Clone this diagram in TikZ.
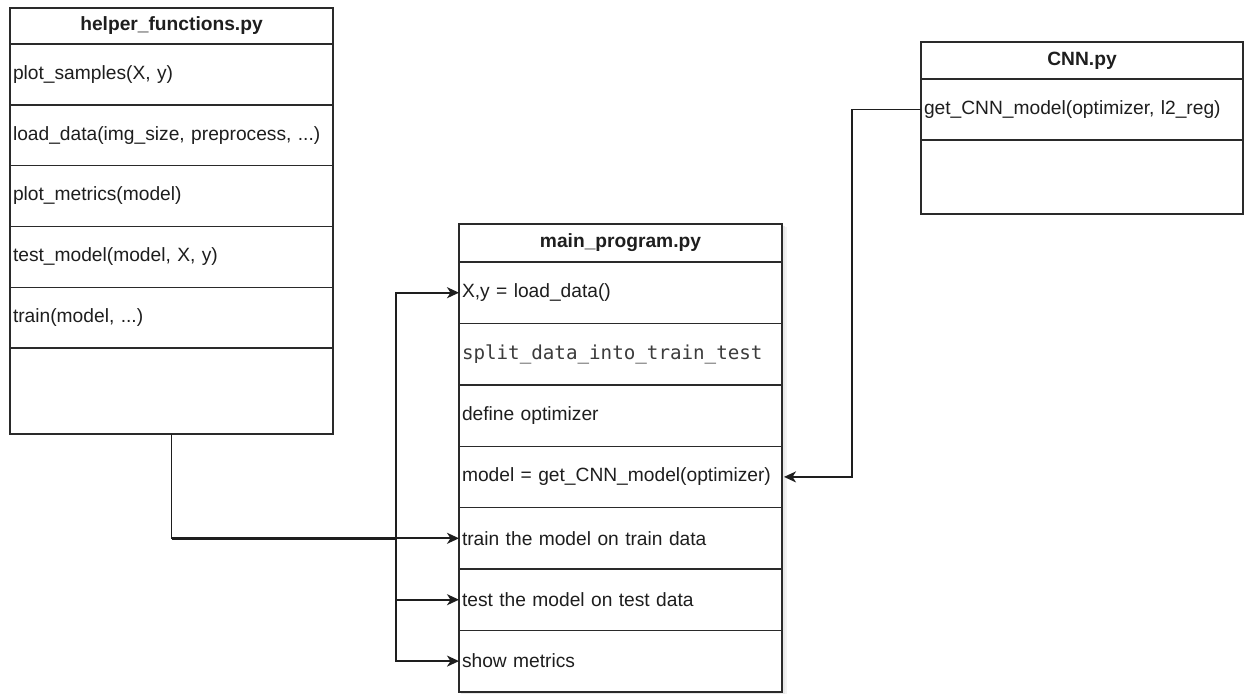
\documentclass[tikz,border=0pt]{standalone}
\usepackage{fontspec}
\setmainfont{Liberation Sans}
\newfontfamily\codefont{DejaVu Sans Mono}
\usetikzlibrary{arrows.meta}
\definecolor{ink}{HTML}{1E1E1E}
\definecolor{edge}{HTML}{2A2A2A}
\definecolor{codegray}{HTML}{3C3C3C}
\begin{document}
\begin{tikzpicture}[x=1pt,y=-1pt,
  every node/.style={font=\fontsize{19.2}{23}\selectfont, text=ink},
  cell/.style={draw=edge, line width=1.4pt, fill=white, anchor=north west,
    inner xsep=3pt, inner ysep=0pt, outer sep=0pt, align=left},
  head/.style={cell, align=center, font=\fontsize{19.2}{23}\selectfont\bfseries},
  wide/.style={text width=317pt},
  conn/.style={draw=ink, line width=1.7pt,
    -{Stealth[length=12pt,width=11pt,inset=3.5pt]}},
  plain/.style={draw=ink, line width=2.6pt}]
\useasboundingbox (0,0) rectangle (1244,693);

% soft shadow under main_program.py
\fill[black!5] (462,227) rectangle (787,697);
\fill[black!9] (461,226) rectangle (785,695);

% helper_functions.py
\node[head, wide, minimum height=36pt] (hh) at (10,8) {helper\_functions.py};
\node[cell, wide, minimum height=60.8pt] (h1) at (hh.south west) {plot\_samples(X, y)};
\node[cell, wide, minimum height=60.8pt] (h2) at (h1.south west) {load\_data(img\_size, preprocess, ...)};
\node[cell, wide, minimum height=60.8pt] (h3) at (h2.south west) {plot\_metrics(model)};
\node[cell, wide, minimum height=60.8pt] (h4) at (h3.south west) {test\_model(model, X, y)};
\node[cell, wide, minimum height=60.8pt] (h5) at (h4.south west) {train(model, ...)};
\node[cell, wide, minimum height=86pt] (h6) at (h5.south west) {};

% main_program.py
\node[head, wide, minimum height=38pt] (mh) at (459,224) {main\_program.py};
\node[cell, wide, minimum height=61.4pt] (m1) at (mh.south west) {X,y = load\_data()};
\node[cell, wide, minimum height=61.4pt] (m2) at (m1.south west) {\textcolor{codegray}{\codefont split\_data\_into\_train\_test}};
\node[cell, wide, minimum height=61.4pt] (m3) at (m2.south west) {define optimizer};
\node[cell, wide, minimum height=61.4pt] (m4) at (m3.south west) {model = get\_CNN\_model(optimizer)};
\node[cell, wide, minimum height=61.4pt] (m5) at (m4.south west) {train the model on train data};
\node[cell, wide, minimum height=61.4pt] (m6) at (m5.south west) {test the model on test data};
\node[cell, wide, minimum height=61.4pt] (m7) at (m6.south west) {show metrics};
\draw[edge, line width=2.8pt] (mh.south west) -- (mh.south east);

% CNN.py
\node[head, text width=316pt, minimum height=37pt] (ch) at (921,42) {CNN.py};
\node[cell, text width=316pt, minimum height=61pt] (c1) at (ch.south west) {get\_CNN\_model(optimizer, l2\_reg)};
\node[cell, text width=316pt, minimum height=74pt] (c2) at (c1.south west) {};

% connectors
\coordinate (cnnbend) at (852,0);
\coordinate (bus) at (396,0);
\draw[conn] (c1.west) -| (cnnbend |- m4.east) -- ([xshift=2pt]m4.east);
\draw[conn] (h6.south) |- (m5.west);
\draw[plain] (h6.south |- m5.west) -- (bus |- m5.west);
\draw[conn] (bus |- m5.west) |- (m1.west);
\draw[conn] (bus |- m5.west) |- (m6.west);
\draw[conn] (bus |- m5.west) |- (m7.west);
\end{tikzpicture}
\end{document}
